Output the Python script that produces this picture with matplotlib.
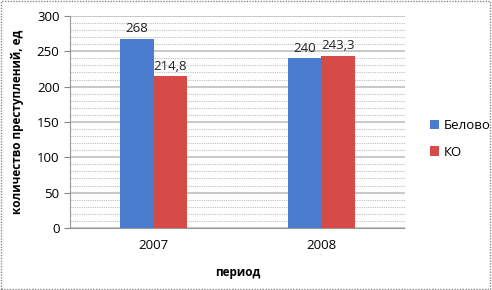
import numpy as np
import matplotlib.pyplot as plt
from matplotlib.patches import Rectangle

periods = ["2007", "2008"]
belovo = [268, 240]
ko = [214.8, 243.3]
series_names = ["Белово", "КО"]
value_labels_belovo = ["268", "240"]
value_labels_ko = ["214,8", "243,3"]

plt.rcParams['font.family'] = ['Open Sans', 'DejaVu Sans']

fig = plt.figure(figsize=(4.92, 2.90), dpi=100)
ax = fig.add_axes([0.142, 0.214, 0.681, 0.731])

x = np.arange(len(periods))
w = 0.2
b1 = ax.bar(x - w / 2, belovo, w, color='#4A7CCF', label=series_names[0], zorder=3)
b2 = ax.bar(x + w / 2, ko, w, color='#D64B47', label=series_names[1], zorder=3)

# подписи значений над столбцами
for rect, lab in zip(b1, value_labels_belovo):
    ax.text(rect.get_x() + rect.get_width() / 2, rect.get_height() + 5, lab,
            ha='center', va='bottom', fontsize=9.5, color='#222222')
for rect, lab in zip(b2, value_labels_ko):
    ax.text(rect.get_x() + rect.get_width() / 2, rect.get_height() + 5, lab,
            ha='center', va='bottom', fontsize=9.5, color='#222222')

ax.set_xlim(-0.5, 1.5)
ax.set_ylim(0, 300)
ax.set_yticks(range(0, 301, 50))
ax.set_yticks(range(0, 301, 10), minor=True)
ax.set_xticks(x)
ax.set_xticklabels(periods)

ax.grid(axis='y', which='major', color='#bfbfbf', linewidth=1.2, zorder=0)
ax.grid(axis='y', which='minor', color='#bfbfbf', linewidth=0.8, linestyle=(0, (1, 1)), zorder=0)
ax.tick_params(axis='y', which='major', length=4, color='#888888', labelsize=9.5)
ax.tick_params(axis='y', which='minor', length=0)
ax.tick_params(axis='x', length=0, labelsize=9.5, pad=8)

for s in ['top', 'right']:
    ax.spines[s].set_visible(False)
ax.spines['left'].set_color('#999999')
ax.spines['bottom'].set_color('#999999')
ax.spines['bottom'].set_linestyle((0, (1, 1)))

ax.set_ylabel("количество преступлений, ед", fontsize=8.5, fontweight='bold', labelpad=9)
ax.set_xlabel("период", fontsize=8.5, fontweight='bold', labelpad=10)

ax.legend(loc='center left', bbox_to_anchor=(1.04, 0.42), frameon=False,
          fontsize=9.5, handlelength=0.7, handleheight=0.7, handletextpad=0.3,
          labelspacing=1.0)

fig.patches.append(Rectangle((0.003, 0.004), 0.993, 0.992, transform=fig.transFigure,
                             fill=False, edgecolor='#888888', linewidth=1, linestyle=(0, (1, 1))))

fig.savefig('out.png', dpi=100)
